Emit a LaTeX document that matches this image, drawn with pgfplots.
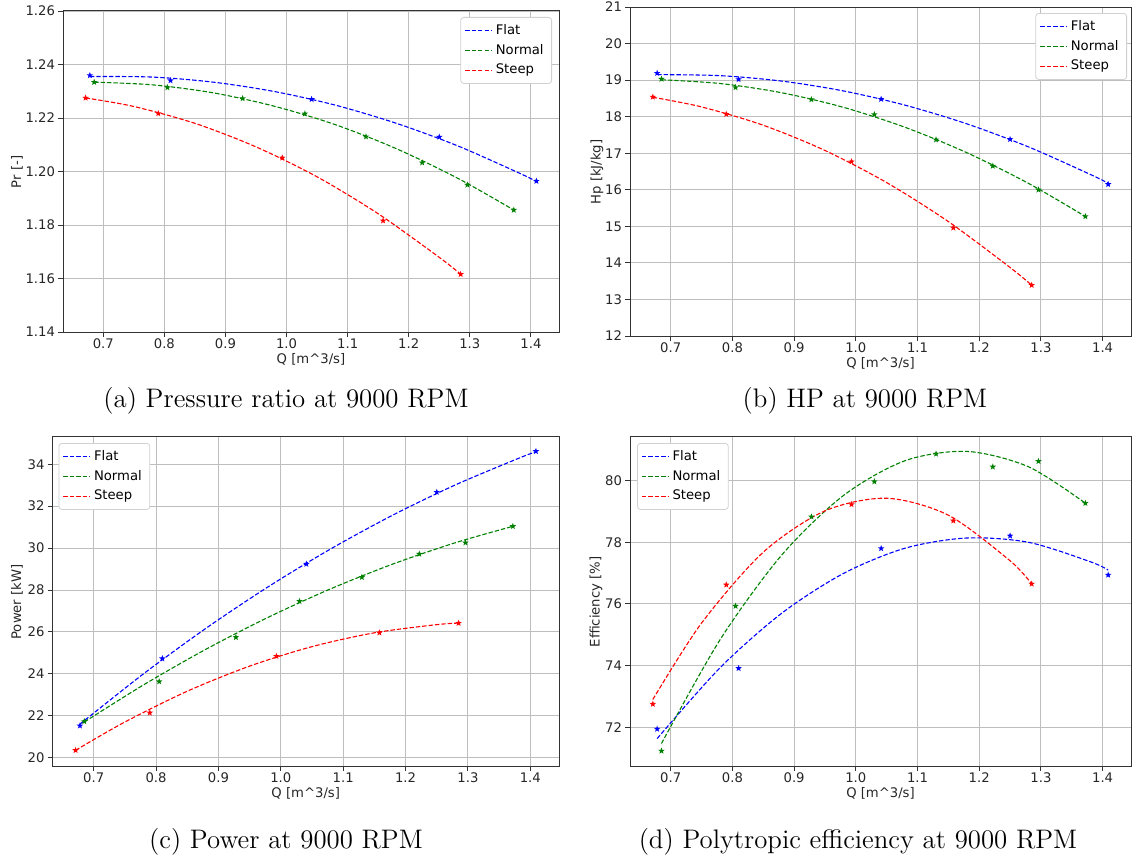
\documentclass[border=0pt]{standalone}
\usepackage{pgfplots}
\usepackage{pgfplotstable}
\pgfplotsset{compat=1.18}
\usepackage{fontspec}
\newfontfamily\dv{DejaVu Sans}
\definecolor{mblue}{RGB}{0,0,255}
\definecolor{mgreen}{RGB}{0,128,0}
\definecolor{mred}{RGB}{255,0,0}
\definecolor{gridc}{RGB}{190,190,190}

\pgfdeclareplotmark{fstar}{%
  \pgfpathmoveto{\pgfpointpolar{90}{\pgfplotmarksize}}%
  \pgfpathlineto{\pgfpointpolar{126}{0.42\pgfplotmarksize}}%
  \pgfpathlineto{\pgfpointpolar{162}{\pgfplotmarksize}}%
  \pgfpathlineto{\pgfpointpolar{198}{0.42\pgfplotmarksize}}%
  \pgfpathlineto{\pgfpointpolar{234}{\pgfplotmarksize}}%
  \pgfpathlineto{\pgfpointpolar{270}{0.42\pgfplotmarksize}}%
  \pgfpathlineto{\pgfpointpolar{306}{\pgfplotmarksize}}%
  \pgfpathlineto{\pgfpointpolar{342}{0.42\pgfplotmarksize}}%
  \pgfpathlineto{\pgfpointpolar{18}{\pgfplotmarksize}}%
  \pgfpathlineto{\pgfpointpolar{54}{0.42\pgfplotmarksize}}%
  \pgfpathclose
  \pgfusepathqfill
}

% measured points: x, pressure ratio, Hp, power, efficiency
\pgfplotstableread{
x pr hp pw eff
0.678 1.2359 19.19 21.52 71.94
0.810 1.2340 19.02 24.73 73.91
1.041 1.2270 18.48 29.24 77.80
1.250 1.2129 17.38 32.67 78.21
1.409 1.1964 16.15 34.62 76.94
}\flat
\pgfplotstableread{
x pr hp pw eff
0.685 1.2334 19.03 21.73 71.23
0.805 1.2314 18.80 23.63 75.93
0.928 1.2273 18.47 25.74 78.83
1.030 1.2216 18.06 27.46 79.97
1.130 1.2130 17.37 28.61 80.87
1.222 1.2033 16.65 29.72 80.45
1.296 1.1950 16.00 30.26 80.63
1.372 1.1856 15.27 31.04 79.27
}\normal
\pgfplotstableread{
x pr hp pw eff
0.671 1.2275 18.54 20.35 72.75
0.790 1.2217 18.07 22.14 76.62
0.993 1.2051 16.77 24.84 79.23
1.158 1.1816 14.96 25.96 78.70
1.285 1.1616 13.39 26.42 76.65
}\steep
% fitted curves
\pgfplotstableread{
x pr hp pw eff
0.678 1.2355 19.150 21.600 71.63
0.780 1.2353 19.122 24.002 73.93
0.880 1.2334 18.973 26.172 75.70
0.980 1.2299 18.704 28.158 76.99
1.080 1.2248 18.314 29.961 77.81
1.180 1.2180 17.803 31.581 78.14
1.280 1.2096 17.172 33.018 78.00
1.380 1.1995 16.420 34.271 77.37
1.409 1.1963 16.180 34.600 77.10
}\flatfit
\pgfplotstableread{
x pr hp pw eff
0.685 1.2334 19.010 21.700 71.47
0.780 1.2324 18.907 23.473 74.84
0.880 1.2294 18.654 25.172 77.59
0.980 1.2244 18.255 26.700 79.52
1.080 1.2175 17.708 28.057 80.65
1.180 1.2085 17.014 29.243 80.95
1.280 1.1975 16.174 30.258 80.45
1.372 1.1856 15.270 31.040 79.27
}\normalfit
\pgfplotstableread{
x pr hp pw eff
0.671 1.2275 18.530 20.350 72.90
0.750 1.2243 18.267 21.700 75.38
0.850 1.2180 17.765 23.169 77.68
0.950 1.2092 17.075 24.367 79.02
1.050 1.1980 16.196 25.297 79.43
1.150 1.1842 15.129 25.957 78.88
1.250 1.1679 13.874 26.347 77.40
1.285 1.1616 13.390 26.420 76.65
}\steepfit

\newcommand{\smallf}{\dv\fontsize{6.6}{7.9}\selectfont}
\pgfplotsset{
  sub/.style={
    scale only axis,
    anchor=south west,
    xmin=0.634, xmax=1.446,
    xtick={0.7,0.8,0.9,1.0,1.1,1.2,1.3,1.4},
    grid=major,
    major grid style={gridc, line width=0.45pt},
    axis line style={black!80, line width=0.5pt},
    tick align=outside,
    xtick pos=bottom, ytick pos=left,
    major tick length=2.5pt,
    tick style={black!80, line width=0.45pt},
    /pgf/number format/assume math mode=true,
    ticklabel style={font=\smallf, text=black!85},
    yticklabel style={xshift=2pt},
    xticklabel style={yshift=2.5pt, /pgf/number format/.cd,fixed,fixed zerofill,precision=1},
    label style={font=\smallf, text=black!85},
    xlabel={Q [m\textasciicircum 3/s]},
    xlabel style={yshift=4.5pt},
    legend cell align=left,
    legend style={font=\smallf, draw=black!18, rounded corners=1.5pt, fill=white,
      inner xsep=2pt, inner ysep=1.5pt, row sep=-0.7pt},
    legend image code/.code={\draw[##1] (0pt,0pt) -- (13pt,0pt);},
  },
  fit/.style={dash pattern=on 2.2pt off 1pt, line width=0.55pt, smooth, no markers},
  pts/.style={only marks, mark=fstar, mark size=1.7pt, forget plot},
}
\tikzset{ylab/.style={rotate=90, font=\smallf, text=black!85, inner sep=0pt}}

\begin{document}
\begin{tikzpicture}
\useasboundingbox (0,0) rectangle (567pt,429pt);

% (a) pressure ratio
\begin{axis}[sub, at={(31.5pt,263pt)}, width=248pt, height=160.5pt,
  ymin=1.14, ymax=1.26, ytick={1.14,1.16,1.18,1.20,1.22,1.24,1.26},
  yticklabel style={/pgf/number format/.cd,fixed,fixed zerofill,precision=2},
  legend style={at={(rel axis cs:1,1)}, anchor=north east, xshift=-3.5pt, yshift=-3pt}]
\addplot[pts, color=mblue] table[x=x, y=pr] {\flat};
\addplot[pts, color=mgreen] table[x=x, y=pr] {\normal};
\addplot[pts, color=mred] table[x=x, y=pr] {\steep};
\addplot[fit, color=mblue] table[x=x, y=pr] {\flatfit};
\addplot[fit, color=mgreen] table[x=x, y=pr] {\normalfit};
\addplot[fit, color=mred] table[x=x, y=pr] {\steepfit};
\legend{Flat, Normal, Steep}
\end{axis}

% (b) Hp
\begin{axis}[sub, at={(315pt,261pt)}, width=250.5pt, height=164.5pt,
  ymin=12, ymax=21, ytick={12,13,...,21},
  legend style={at={(rel axis cs:1,1)}, anchor=north east, xshift=-2pt, yshift=-3pt}]
\addplot[pts, color=mblue] table[x=x, y=hp] {\flat};
\addplot[pts, color=mgreen] table[x=x, y=hp] {\normal};
\addplot[pts, color=mred] table[x=x, y=hp] {\steep};
\addplot[fit, color=mblue] table[x=x, y=hp] {\flatfit};
\addplot[fit, color=mgreen] table[x=x, y=hp] {\normalfit};
\addplot[fit, color=mred] table[x=x, y=hp] {\steepfit};
\legend{Flat, Normal, Steep}
\end{axis}

% (c) power
\begin{axis}[sub, at={(26.25pt,46pt)}, width=253.25pt, height=165pt,
  ymin=19.6, ymax=35.35, ytick={20,22,...,34},
  legend style={at={(rel axis cs:0,1)}, anchor=north west, xshift=3pt, yshift=-3.5pt}]
\addplot[pts, color=mblue] table[x=x, y=pw] {\flat};
\addplot[pts, color=mgreen] table[x=x, y=pw] {\normal};
\addplot[pts, color=mred] table[x=x, y=pw] {\steep};
\addplot[fit, color=mblue] table[x=x, y=pw] {\flatfit};
\addplot[fit, color=mgreen] table[x=x, y=pw] {\normalfit};
\addplot[fit, color=mred] table[x=x, y=pw] {\steepfit};
\legend{Flat, Normal, Steep}
\end{axis}

% (d) efficiency
\begin{axis}[sub, at={(315pt,46pt)}, width=250.5pt, height=165pt,
  ymin=70.74, ymax=81.45, ytick={72,74,...,80},
  legend style={at={(rel axis cs:0,1)}, anchor=north west, xshift=3.5pt, yshift=-3.5pt}]
\addplot[pts, color=mblue] table[x=x, y=eff] {\flat};
\addplot[pts, color=mgreen] table[x=x, y=eff] {\normal};
\addplot[pts, color=mred] table[x=x, y=eff] {\steep};
\addplot[fit, color=mblue] table[x=x, y=eff] {\flatfit};
\addplot[fit, color=mgreen] table[x=x, y=eff] {\normalfit};
\addplot[fit, color=mred] table[x=x, y=eff] {\steepfit};
\legend{Flat, Normal, Steep}
\end{axis}

% y-axis labels
\node[ylab] at (8.5pt,343pt) {Pr [-]};
\node[ylab] at (298.5pt,343pt) {Hp [kJ/kg]};
\node[ylab] at (8.5pt,128pt) {Power [kW]};
\node[ylab] at (298pt,128pt) {Efficiency [\%]};

% sub-captions
\node[anchor=base, font=\fontsize{13.4}{16}\selectfont] at (143pt,225.5pt) {(a) Pressure ratio at 9000 RPM};
\node[anchor=base, font=\fontsize{13.4}{16}\selectfont] at (432.5pt,225.5pt) {(b) HP at 9000 RPM};
\node[anchor=base, font=\fontsize{13.4}{16}\selectfont] at (143pt,5pt) {(c) Power at 9000 RPM};
\node[anchor=base, font=\fontsize{13.4}{16}\selectfont] at (429pt,5pt) {(d) Polytropic efficiency at 9000 RPM};
\end{tikzpicture}
\end{document}
